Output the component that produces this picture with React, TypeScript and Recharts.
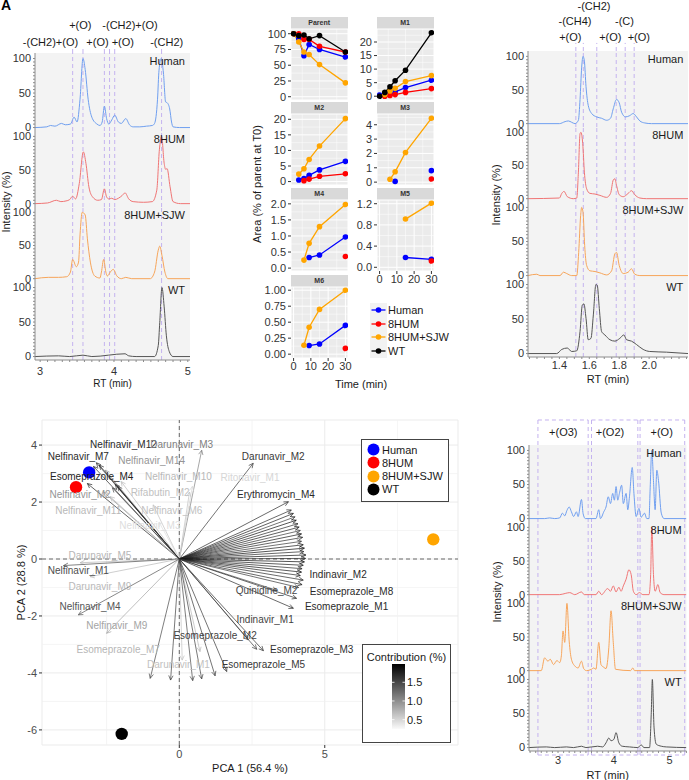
import React from 'react';
import { LineChart, Line, XAxis, YAxis, CartesianGrid, ReferenceLine, ScatterChart, Scatter } from 'recharts';

const FONT = '"Liberation Sans", Arial, Helvetica, sans-serif';
const TXT = '#1a1a1a';
const AXIS_GREY = '#8c8c8c';
const DASH = '#c4b3ef';
const PLOT_BG = '#f3f3f3';

// ---------------- Panel A : chromatograms (RT min, intensity %) ----------------
const A_HUMAN = [[2.93,0],[3.09,1],[3.14,3],[3.2,2],[3.29,6],[3.34,4],[3.41,5],[3.46,15],[3.5,8],[3.54,41],[3.58,100],[3.61,84],[3.65,41],[3.7,15],[3.77,5],[3.81,3],[3.84,8],[3.87,31],[3.9,13],[3.93,5],[3.97,11],[4.01,18],[4.06,8],[4.1,6],[4.16,13],[4.21,4],[4.26,1],[4.35,1],[4.44,2],[4.52,3],[4.55,6],[4.59,41],[4.61,83],[4.64,100],[4.67,79],[4.7,37],[4.72,36],[4.755,27],[4.78,8],[4.8,1],[4.89,0],[5.03,0]];
const A_8HUM = [[2.93,0],[3.1,1],[3.22,5],[3.28,3],[3.35,4],[3.4,6],[3.44,11],[3.48,7],[3.53,30],[3.585,77],[3.62,60],[3.66,25],[3.71,10],[3.78,5],[3.83,6],[3.87,22],[3.9,10],[3.93,7],[3.97,8],[4.01,6],[4.06,8],[4.11,12],[4.15,16],[4.2,7],[4.26,3],[4.4,2],[4.52,3],[4.58,20],[4.615,80],[4.645,100],[4.68,60],[4.7,51],[4.72,52],[4.76,25],[4.8,3],[4.9,0],[5.03,0]];
const A_SJW = [[2.93,0],[3.11,2],[3.25,2],[3.36,3],[3.41,10],[3.44,29],[3.49,18],[3.52,25],[3.54,66],[3.57,100],[3.61,96],[3.64,60],[3.68,25],[3.74,4],[3.81,1],[3.83,10],[3.86,29],[3.89,10],[3.91,4],[3.95,10],[3.99,14],[4.04,4],[4.1,0],[4.16,2],[4.24,0],[4.49,0],[4.55,10],[4.6,43],[4.62,49],[4.65,35],[4.69,10],[4.73,0],[5.03,0]];
const A_WT = [[2.93,0],[3.25,1],[3.4,0],[3.58,2],[3.7,0],[4.15,4],[4.2,1],[4.3,0],[4.55,0],[4.6,16],[4.62,49],[4.65,100],[4.68,72],[4.71,30],[4.75,7],[4.8,0],[5.03,0]];
const A_VLINES = [3.44, 3.58, 3.87, 3.94, 4.01, 4.645];
const A_XTICKS = [3,3.1,3.2,3.3,3.4,3.5,3.6,3.7,3.8,3.9,4,4.1,4.2,4.3,4.4,4.5,4.6,4.7,4.8,4.9,5];
const A_XMAJOR = [3,4,5];

// ---------------- Panel C ----------------
const C_HUMAN = [[1.19,0],[1.4,0],[1.438,3],[1.46,4],[1.482,2],[1.504,0],[1.527,5],[1.538,36],[1.549,84],[1.558,100],[1.567,93],[1.578,55],[1.593,27],[1.616,15],[1.649,10],[1.682,8],[1.716,5],[1.742,8],[1.76,22],[1.782,36],[1.8,31],[1.816,17],[1.842,10],[1.871,12],[1.893,15],[1.916,10],[1.938,4],[1.971,1],[2.016,0],[2.26,0]];
const C_8HUM = [[1.19,0],[1.4,1],[1.416,8],[1.431,11],[1.453,3],[1.493,0],[1.516,1],[1.527,40],[1.538,98],[1.544,100],[1.556,83],[1.567,40],[1.582,15],[1.604,8],[1.638,7],[1.671,5],[1.716,2],[1.742,8],[1.76,28],[1.771,30],[1.782,20],[1.8,6],[1.827,3],[1.86,8],[1.882,12],[1.904,6],[1.938,1],[1.982,0],[2.26,0]];
const C_SJW = [[1.19,0],[1.249,2],[1.27,0],[1.404,0],[1.427,5],[1.449,3],[1.482,0],[1.516,0],[1.529,34],[1.542,88],[1.549,100],[1.558,93],[1.569,44],[1.582,15],[1.604,7],[1.638,6],[1.671,4],[1.716,1],[1.749,7],[1.771,32],[1.782,34],[1.8,15],[1.827,3],[1.86,5],[1.882,10],[1.904,2],[1.938,0],[2.26,0]];
const C_WT = [[1.19,0],[1.382,0],[1.416,6],[1.453,8],[1.482,3],[1.516,4],[1.538,32],[1.553,70],[1.564,72],[1.578,51],[1.593,20],[1.611,22],[1.627,56],[1.644,100],[1.653,99],[1.667,65],[1.682,32],[1.704,27],[1.738,20],[1.771,18],[1.804,22],[1.831,27],[1.849,20],[1.882,18],[1.916,13],[1.96,6],[2.004,3],[2.116,2],[2.26,0]];
const C_VLINES = [1.51, 1.56, 1.65, 1.78, 1.84, 1.9];
const C_XTICKS = [1.2,1.25,1.3,1.35,1.4,1.45,1.5,1.55,1.6,1.65,1.7,1.75,1.8,1.85,1.9,1.95,2,2.05,2.1,2.15,2.2,2.25];
const C_XMAJOR = [1.4,1.6,1.8,2];

// ---------------- Panel D ----------------
const D_HUMAN = [[2.48,0],[2.76,0],[2.85,1],[2.94,0],[3.03,1],[3.08,8],[3.12,4],[3.16,12],[3.2,17],[3.24,10],[3.28,3],[3.33,10],[3.36,3],[3.42,28],[3.45,7],[3.49,0],[3.68,0],[3.73,13],[3.76,0],[3.82,10],[3.86,17],[3.9,32],[3.94,22],[3.98,37],[4.01,27],[4.04,47],[4.07,27],[4.1,37],[4.14,49],[4.17,22],[4.22,37],[4.25,13],[4.28,32],[4.33,75],[4.36,37],[4.4,3],[4.45,15],[4.49,2],[4.55,8],[4.59,0],[4.63,0],[4.65,42],[4.68,100],[4.71,56],[4.74,13],[4.77,71],[4.8,56],[4.85,8],[4.9,0],[5.3,0]];
const D_8HUM = [[2.48,0],[3.03,0],[3.14,2],[3.21,3],[3.3,0],[3.42,4],[3.47,0],[3.68,0],[3.73,5],[3.78,0],[3.89,9],[3.94,5],[3.99,13],[4.04,4],[4.09,11],[4.13,5],[4.17,13],[4.22,23],[4.27,37],[4.31,30],[4.35,5],[4.4,0],[4.46,3],[4.52,0],[4.63,0],[4.66,30],[4.68,100],[4.71,30],[4.74,5],[4.79,15],[4.83,3],[4.9,0],[5.3,0]];
const D_SJW = [[2.48,0],[2.7,0],[2.76,19],[2.82,14],[2.86,17],[2.92,9],[2.98,15],[3.03,12],[3.06,22],[3.09,59],[3.12,42],[3.16,100],[3.2,44],[3.24,17],[3.3,7],[3.36,4],[3.42,14],[3.46,3],[3.51,0],[3.6,2],[3.64,4],[3.68,2],[3.73,42],[3.77,9],[3.82,5],[3.86,3],[3.91,34],[3.95,89],[3.99,42],[4.03,2],[4.3,0],[4.34,4],[4.37,0],[5.3,0]];
const D_WT = [[2.48,0],[2.79,1],[2.94,0],[3.15,1],[3.28,0],[3.42,2],[3.5,0],[3.71,2],[3.8,1],[3.86,7],[3.91,14],[3.95,10],[4,12],[4.04,22],[4.09,7],[4.15,2],[4.28,1],[4.43,0],[4.49,4],[4.54,0],[4.64,0],[4.67,49],[4.69,100],[4.72,30],[4.76,5],[4.85,2],[4.94,1],[5.3,0]];
const D_BOXES = [[2.64,3.54],[3.6,4.43],[4.47,5.27]];
const D_XTICKS = [2.5,2.6,2.7,2.8,2.9,3,3.1,3.2,3.3,3.4,3.5,3.6,3.7,3.8,3.9,4,4.1,4.2,4.3,4.4,4.5,4.6,4.7,4.8,4.9,5,5.1,5.2,5.3];
const D_XMAJOR = [3,4,5];

const Y_DOMAIN = [-5, 108];
const Y_TICKS = [0,5,10,15,20,25,30,35,40,45,50,55,60,65,70,75,80,85,90,95,100];
const Y_MAJOR = [0,50,100];

const SAMPLE_NAMES = ['Human', '8HUM', '8HUM+SJW', 'WT'];
const TRACE_COLORS = ['#6f9ff0', '#f07575', '#f7a55a', '#555555'];

// ---------------- Panel B : kinetics (time min, area % of parent at T0) ----------------
const PARENT_HUMAN = [[0,100],[3,92],[6,65],[9,83],[15,75],[30,63]];
const PARENT_8HUM = [[0,100],[3,100],[6,91],[9,91],[15,80],[30,71]];
const PARENT_SJW = [[0,100],[3,87],[6,71],[9,67],[15,51],[30,22]];
const PARENT_WT = [[0,100],[3,97],[6,98],[9,92],[15,97],[30,71]];
const M1_HUMAN = [[0,0.4],[3,0.3],[6,0.8],[9,1.6],[15,3.2],[30,5.9]];
const M1_8HUM = [[3,0],[6,0.3],[9,0.6],[15,1.4],[30,2.8]];
const M1_SJW = [[3,0.6],[6,1.9],[9,2.9],[15,5.4],[30,7.6]];
const M1_WT = [[0,0],[3,1.4],[6,3.5],[9,5.7],[15,9.6],[30,23.4]];
const M2_HUMAN = [[3,0.5],[6,1.0],[9,2.0],[15,3.75],[30,6.5]];
const M2_8HUM = [[6,0.3],[9,0.8],[15,1.7],[30,2.5]];
const M2_SJW = [[3,2.4],[6,4.1],[9,7.1],[15,11.4],[30,20.2]];
const M3_HUMAN = [[9,0.05],[15,null],[30,0.8]];
const M3_8HUM = [[30,0.22]];
const M3_SJW = [[6,0.2],[9,0.72],[15,2.07],[30,4.45]];
const M4_HUMAN = [[9,0.33],[15,0.41],[30,0.97]];
const M4_8HUM = [[30,0.36]];
const M4_SJW = [[6,0.25],[9,0.77],[15,1.29],[30,1.98]];
const M5_HUMAN = [[15,0.185],[30,0.15]];
const M5_8HUM = [[30,0.12]];
const M5_SJW = [[15,0.91],[30,1.21]];
const M6_HUMAN = [[9,0.135],[15,0.16],[30,0.45]];
const M6_8HUM = [[30,0.09]];
const M6_SJW = [[6,0.14],[9,0.42],[15,0.70],[30,1.0]];
const GROUP_COLORS = ['#0000ff', '#ff0000', '#ffa500', '#000000'];
const TIME_TICKS = [0, 10, 20, 30];
const TIME_MINOR = [5, 15, 25];

// ---------------- Panel E : PCA biplot ----------------
const PCA_PC1 = [-3.1, -3.55, 8.73, -1.98];
const PCA_PC2 = [3.04, 2.52, 0.69, -6.14];
const VAR_NAMES = ['Nelfinavir_M12','Darunavir_M3','Nelfinavir_M7','Nelfinavir_M14','Esomeprazole_M4','Nelfinavir_M10','Ritonavir_M1','Darunavir_M2','Erythromycin_M4','Rifabutin_M2','Nelfinavir_M2','Nelfinavir_M11','Nelfinavir_M6','Nelfinavir_M3','Darunavir_M5','Nelfinavir_M1','Darunavir_M9','Nelfinavir_M4','Nelfinavir_M9','Esomeprazole_M7','Darunavir_M1','Esomeprazole_M2','Esomeprazole_M3','Indinavir_M1','Esomeprazole_M5','Esomeprazole_M1','Quinidine_M2','Esomeprazole_M8','Indinavir_M2'];
const VAR_PC1 = [-2.85,0.77,-2.95,-2.55,-3.16,-2.0,0.45,2.54,3.75,0.35,-2.6,-2.38,-0.9,-0.7,-3.41,-3.98,-3.07,-3.47,-2.5,0.71,0.1,2.66,2.89,2.37,1.63,3.92,3.35,4.03,4.26];
const VAR_PC2 = [3.38,3.82,3.25,3.12,2.65,2.72,2.55,3.36,2.01,2.35,2.35,2.19,1.9,1.3,-0.13,-0.23,-0.62,-1.96,-2.61,-3.25,-3.55,-3.17,-3.22,-2.84,-3.95,-1.73,-1.1,-1.38,-0.74];
const VAR_CONTRIB = [1.7,1.1,1.7,0.95,1.75,0.7,0.5,1.6,1.7,0.65,0.95,0.7,0.65,0.45,0.72,1.45,0.7,1.4,0.85,0.72,0.65,1.55,1.65,1.55,1.6,1.7,1.5,1.7,1.7];
const VAR_LAB_PC1 = [-1.92,0.08,-3.47,-0.95,-3.01,-0.03,2.43,3.23,3.32,-0.66,-3.41,-3.13,-0.26,-1.01,-2.73,-3.47,-2.73,-3.07,-2.15,-2.1,-0.03,1.23,4.55,2.95,2.89,5.75,3.0,5.92,5.46];
const VAR_LAB_PC2 = [4.02,4.02,3.59,3.47,2.89,2.89,2.85,3.61,2.27,2.34,2.28,1.72,1.72,1.16,0.14,-0.42,-0.97,-1.67,-2.35,-3.19,-3.72,-2.67,-3.17,-2.14,-3.72,-1.67,-1.09,-1.15,-0.56];
const OTHER_PC1 = [3.85,3.92,3.98,4.02,4.08,4.12,4.16,4.2,4.24,4.2,4.26,4.3,4.28,4.35,4.34,4.3,4.26,4.22,4.2,4.16,4.22,4.1,-1.0,-0.3,0.46,0.77,1.23,-2.2,-2.12,-2.3,-2.75];
const OTHER_PC2 = [1.72,1.6,1.48,1.36,1.24,1.12,1.0,0.88,0.76,0.62,0.5,0.38,0.26,0.14,0.02,-0.1,-0.22,-0.34,-0.46,-0.58,-0.9,-1.0,-4.19,-4.25,-4.27,-4.21,-4.1,2.62,2.55,2.5,3.3];
const OTHER_CONTRIB = [1.7,1.8,1.6,1.9,1.7,1.8,1.6,1.85,1.7,1.6,1.8,1.9,1.7,1.85,1.75,1.9,1.8,1.7,1.85,1.75,1.7,1.6,1.5,1.55,1.5,1.55,1.6,1.7,1.6,1.5,1.7];
const CONTRIB_MIN = 0.25;
const CONTRIB_MAX = 1.99;
const CONTRIB_LABELS = [1.5, 1.0, 0.5];

const contribColor = (v: number) => {
  const t = Math.max(0, Math.min(1, (v - CONTRIB_MIN) / (CONTRIB_MAX - CONTRIB_MIN)));
  const g = Math.round(250 * (1 - t));
  return `rgb(${g},${g},${g})`;
};

const toXY = (arr: number[][]) => arr.map(([x, y]) => ({ x, y }));
const toTV = (arr: any[][]) => arr.map(([t, v]) => ({ t, v }));

function T({ x, y, children, size = 11, color = TXT, anchor = 'middle', rotate = 0, weight = 'normal' }: any) {
  const tx = anchor === 'middle' ? '-50%' : anchor === 'end' ? '-100%' : '0';
  return (
    <div style={{ position: 'absolute', left: x, top: y, transform: `translate(${tx},-50%)${rotate ? ` rotate(${rotate}deg)` : ''}`, fontSize: size, color, whiteSpace: 'nowrap', lineHeight: 1, fontWeight: weight }}>
      {children}
    </div>
  );
}

const YW = 35;

function Chrom(c: any) {
  const mt = c.mt || 0;
  const xh = c.showX ? 30 : 0;
  const rows = toXY(c.data);
  const fmtX = (v: number) => (c.xMajor.includes(v) ? (c.xFixed ? v.toFixed(1) : String(v)) : '');
  return (
    <div style={{ position: 'absolute', left: c.left - YW, top: c.top - mt }}>
      <LineChart width={YW + c.w} height={mt + c.h + xh} margin={{ top: mt, right: 0, bottom: 0, left: 0 }} data={rows}>
        <CartesianGrid fill={PLOT_BG} horizontal={false} vertical={false} />
        <XAxis type="number" dataKey="x" domain={c.domain} ticks={c.xTicks} interval={0} allowDataOverflow height={xh}
          axisLine={{ stroke: AXIS_GREY }} tickLine={c.showX ? { stroke: AXIS_GREY } : false} tickSize={2} tickMargin={c.tickMargin || 2}
          tick={c.showX ? { fontSize: 11, fill: '#333' } : false} tickFormatter={fmtX}
          label={c.showX ? { value: 'RT (min)', position: 'insideBottom', offset: c.labelOffset || 2, fontSize: c.labelSize || 11, fill: TXT } : undefined} />
        <YAxis type="number" domain={Y_DOMAIN} ticks={Y_TICKS} interval={0} allowDataOverflow width={YW}
          axisLine={{ stroke: AXIS_GREY }} tickLine={{ stroke: AXIS_GREY }} tickSize={2} tickMargin={2}
          tick={{ fontSize: 11, fill: '#333' }} tickFormatter={(v: number) => (Y_MAJOR.includes(v) ? String(v) : '')} />
        {c.vlines.map((v: number) => (
          <ReferenceLine key={'v' + v} x={v} stroke={DASH} strokeDasharray="4 3" strokeWidth={1} />
        ))}
        {c.extTop != null && c.vlines.map((v: number) => (
          <ReferenceLine key={'t' + v} segment={[{ x: v, y: Y_DOMAIN[1] }, { x: v, y: c.extTop }]} ifOverflow="visible" stroke={DASH} strokeDasharray="4 3" />
        ))}
        {c.extBottom != null && c.vlines.map((v: number) => (
          <ReferenceLine key={'b' + v} segment={[{ x: v, y: Y_DOMAIN[0] }, { x: v, y: c.extBottom }]} ifOverflow="visible" stroke={DASH} strokeDasharray="4 3" />
        ))}
        {c.boxes && c.extTop != null && c.boxes.map((b: number[]) => (
          <ReferenceLine key={'bt' + b[0]} segment={[{ x: b[0], y: c.extTop }, { x: b[1], y: c.extTop }]} ifOverflow="visible" stroke={DASH} strokeDasharray="4 3" />
        ))}
        {c.boxes && c.extBottom != null && c.boxes.map((b: number[]) => (
          <ReferenceLine key={'bb' + b[0]} segment={[{ x: b[0], y: c.extBottom }, { x: b[1], y: c.extBottom }]} ifOverflow="visible" stroke={DASH} strokeDasharray="4 3" />
        ))}
        <Line type="monotone" dataKey="y" stroke={c.color} strokeWidth={1} dot={false} isAnimationActive={false} />
      </LineChart>
      <div style={{ position: 'absolute', left: YW + c.w - 105, width: 100, top: mt + 2, textAlign: 'right', fontSize: 11, color: TXT, lineHeight: '13px' }}>{c.name}</div>
    </div>
  );
}

const FYW = 32;
const STRIP = 12;
const PW = 57;
const PH = 71;

function Facet({ px, py, title, domain, ticks, labels, minor, series, showX }: any) {
  const xh = showX ? 17 : 0;
  return (
    <div style={{ position: 'absolute', left: px - FYW, top: py - STRIP }}>
      <div style={{ position: 'absolute', left: FYW, top: 0, width: PW, height: STRIP, background: '#d9d9d9', fontSize: 7, fontWeight: 'bold', textAlign: 'center', lineHeight: STRIP + 'px', color: '#333' }}>{title}</div>
      <LineChart width={FYW + PW} height={STRIP + PH + xh} margin={{ top: STRIP, right: 0, bottom: 0, left: 0 }}>
        <CartesianGrid fill="#ebebeb" stroke="#ffffff" strokeWidth={1} />
        {TIME_MINOR.map((v) => <ReferenceLine key={'mx' + v} x={v} stroke="#ffffff" strokeWidth={0.5} />)}
        {minor.map((v: number) => <ReferenceLine key={'my' + v} y={v} stroke="#ffffff" strokeWidth={0.5} />)}
        <XAxis type="number" dataKey="t" domain={[-1.5, 31.5]} ticks={TIME_TICKS} interval={0} allowDataOverflow height={xh}
          axisLine={false} tickLine={showX ? { stroke: '#333' } : false} tickSize={3} tickMargin={1}
          tick={showX ? { fontSize: 11, fill: '#333' } : false} />
        <YAxis type="number" domain={domain} ticks={ticks} interval={0} allowDataOverflow width={FYW}
          axisLine={false} tickLine={{ stroke: '#333' }} tickSize={3} tickMargin={2}
          tick={{ fontSize: 11, fill: '#333' }} tickFormatter={(v: number) => labels[ticks.indexOf(v)]} />
        {series.map((s: any, i: number) => (
          <Line key={i} data={toTV(s.data)} dataKey="v" type="linear" stroke={s.color} strokeWidth={1.3}
            dot={{ r: 2.8, fill: s.color, stroke: s.color, strokeWidth: 0 }} isAnimationActive={false} />
        ))}
      </LineChart>
    </div>
  );
}

const arrowShape = (color: string) => (p: any) => {
  const { x1, y1, x2, y2 } = p;
  const a = Math.atan2(y2 - y1, x2 - x1);
  const L = 5;
  const s = 0.45;
  const ax = x2 - L * Math.cos(a - s);
  const ay = y2 - L * Math.sin(a - s);
  const bx = x2 - L * Math.cos(a + s);
  const by = y2 - L * Math.sin(a + s);
  return (
    <g>
      <line x1={x1} y1={y1} x2={x2} y2={y2} stroke={color} strokeWidth={0.7} />
      <path d={`M${ax},${ay}L${x2},${y2}L${bx},${by}`} fill="none" stroke={color} strokeWidth={0.7} />
    </g>
  );
};

function PcaPanel() {
  const labels = VAR_NAMES.map((n, i) => ({ x: VAR_LAB_PC1[i], y: VAR_LAB_PC2[i], name: n, c: contribColor(VAR_CONTRIB[i]) }));
  const arrows = [
    ...VAR_NAMES.map((n, i) => ({ x: VAR_PC1[i], y: VAR_PC2[i], c: VAR_CONTRIB[i] })),
    ...OTHER_PC1.map((x, i) => ({ x, y: OTHER_PC2[i], c: OTHER_CONTRIB[i] })),
  ];
  const minorX = [-2.5, 2.5, 7.5];
  const minorY = [-5, -3, -1, 1, 3];
  return (
    <div style={{ position: 'absolute', left: 0, top: 395 }}>
      <ScatterChart width={460} height={385} margin={{ top: 25, right: 2, bottom: 0, left: 0 }}>
        <CartesianGrid stroke="#ebebeb" strokeWidth={1} />
        {minorX.map((v) => <ReferenceLine key={'gx' + v} x={v} stroke="#f0f0f0" strokeWidth={0.7} />)}
        {minorY.map((v) => <ReferenceLine key={'gy' + v} y={v} stroke="#f0f0f0" strokeWidth={0.7} />)}
        <XAxis type="number" dataKey="x" domain={[-4.72, 9.58]} ticks={[0, 5]} interval={0} allowDataOverflow height={35}
          axisLine={false} tickLine={{ stroke: '#333' }} tickSize={3} tickMargin={2}
          tick={{ fontSize: 11, fill: '#4d4d4d' }}
          label={{ value: 'PCA 1 (56.4 %)', position: 'insideBottom', offset: 8, fontSize: 11, fill: TXT }} />
        <YAxis type="number" dataKey="y" domain={[-6.53, 4.88]} ticks={[-6, -4, -2, 0, 2, 4]} interval={0} allowDataOverflow width={42}
          axisLine={false} tickLine={{ stroke: '#333' }} tickSize={3} tickMargin={2}
          tick={{ fontSize: 11, fill: '#4d4d4d' }}
          label={{ value: 'PCA 2 (28.8 %)', angle: -90, position: 'center', dx: 0, fontSize: 11, fill: TXT }} />
        <ReferenceLine x={0} stroke="#444" strokeDasharray="4 3" strokeWidth={0.8} />
        <ReferenceLine y={0} stroke="#444" strokeDasharray="4 3" strokeWidth={0.8} />
        {SAMPLE_NAMES.map((g, i) => (
          <Scatter key={g} name={g} data={[{ x: PCA_PC1[i], y: PCA_PC2[i] }]} fill={GROUP_COLORS[i]} isAnimationActive={false}
            shape={(p: any) => <circle cx={p.cx} cy={p.cy} r={6.2} fill={GROUP_COLORS[i]} />} />
        ))}
        {arrows.map((a, i) => (
          <ReferenceLine key={'ar' + i} segment={[{ x: 0, y: 0 }, { x: a.x, y: a.y }]} ifOverflow="visible"
            shape={arrowShape(contribColor(a.c))} />
        ))}
        <Scatter data={labels} isAnimationActive={false}
          shape={(p: any) => (
            <text x={p.cx} y={p.cy} textAnchor="middle" dominantBaseline="central" fontSize={10} fill={p.payload.c} fontFamily={FONT}>{p.payload.name}</text>
          )} />
      </ScatterChart>
      {/* group legend */}
      <div style={{ position: 'absolute', left: 361, top: 44, width: 86, height: 61, border: '1px solid #444', background: '#fff' }}>
        {SAMPLE_NAMES.map((g, i) => (
          <div key={g} style={{ position: 'absolute', left: 5, top: 3 + i * 13.3, height: 13, display: 'flex', alignItems: 'center' }}>
            <svg width={14} height={13}><circle cx={6.5} cy={6.5} r={6} fill={GROUP_COLORS[i]} /></svg>
            <span style={{ fontSize: 11, color: TXT, marginLeft: 1 }}>{g}</span>
          </div>
        ))}
      </div>
      {/* contribution legend */}
      <div style={{ position: 'absolute', left: 362, top: 249, width: 87, height: 97, border: '1px solid #444', background: '#fff' }}>
        <div style={{ position: 'absolute', left: 0, width: 87, top: 6, textAlign: 'center', fontSize: 11, color: TXT }}>Contribution (%)</div>
        <svg style={{ position: 'absolute', left: 29, top: 19 }} width={14} height={66}>
          <defs>
            <linearGradient id="contribGrad" x1="0" y1="1" x2="0" y2="0">
              <stop offset="0%" stopColor={contribColor(CONTRIB_MIN)} />
              <stop offset="50%" stopColor={contribColor((CONTRIB_MIN + CONTRIB_MAX) / 2)} />
              <stop offset="100%" stopColor={contribColor(CONTRIB_MAX)} />
            </linearGradient>
          </defs>
          <rect x={0} y={0} width={13} height={65} fill="url(#contribGrad)" />
          {CONTRIB_LABELS.map((v) => {
            const yy = 65 * (1 - (v - CONTRIB_MIN) / (CONTRIB_MAX - CONTRIB_MIN));
            return (
              <g key={v}>
                <line x1={0} x2={2.5} y1={yy} y2={yy} stroke="#fff" strokeWidth={0.8} />
                <line x1={10.5} x2={13} y1={yy} y2={yy} stroke="#fff" strokeWidth={0.8} />
              </g>
            );
          })}
        </svg>
        {CONTRIB_LABELS.map((v) => (
          <div key={v} style={{ position: 'absolute', left: 44, top: 19 + 65 * (1 - (v - CONTRIB_MIN) / (CONTRIB_MAX - CONTRIB_MIN)) - 6, fontSize: 11, color: TXT, lineHeight: '12px' }}>{v.toFixed(1)}</div>
        ))}
      </div>
    </div>
  );
}

export default function App() {
  const aData = [A_HUMAN, A_8HUM, A_SJW, A_WT];
  const cData = [C_HUMAN, C_8HUM, C_SJW, C_WT];
  const dData = [D_HUMAN, D_8HUM, D_SJW, D_WT];
  const aTops = [53, 131, 207, 282];
  const aH = [78, 76, 75, 78];
  const cTops = [51, 127, 202, 279];
  const cH = [76, 75, 77, 78];
  const dTops = [445, 522, 598, 674];
  const dH = [77, 76, 76, 77];
  const dV = D_BOXES.flat();

  const facets = [
    { px: 290.7, py: 28.5, title: 'Parent', domain: [-5.2, 107.5], ticks: [0, 25, 50, 75, 100], labels: ['0', '25', '50', '75', '100'], minor: [12.5, 37.5, 62.5, 87.5],
      series: [PARENT_HUMAN, PARENT_8HUM, PARENT_SJW, PARENT_WT] },
    { px: 376.5, py: 28.5, title: 'M1', domain: [-1.4, 24.8], ticks: [0, 5, 10, 15, 20], labels: ['0', '5', '10', '15', '20'], minor: [2.5, 7.5, 12.5, 17.5, 22.5],
      series: [M1_HUMAN, M1_8HUM, M1_SJW, M1_WT] },
    { px: 290.7, py: 114, title: 'M2', domain: [-1.1, 21.7], ticks: [0, 5, 10, 15, 20], labels: ['0', '5', '10', '15', '20'], minor: [2.5, 7.5, 12.5, 17.5],
      series: [M2_HUMAN, M2_8HUM, M2_SJW, []] },
    { px: 376.5, py: 114, title: 'M3', domain: [-0.2, 4.75], ticks: [0, 1, 2, 3, 4], labels: ['0', '1', '2', '3', '4'], minor: [0.5, 1.5, 2.5, 3.5, 4.5],
      series: [M3_HUMAN, M3_8HUM, M3_SJW, []] },
    { px: 290.7, py: 200, title: 'M4', domain: [-0.09, 2.12], ticks: [0, 0.5, 1, 1.5, 2], labels: ['0.0', '0.5', '1.0', '1.5', '2.0'], minor: [0.25, 0.75, 1.25, 1.75],
      series: [M4_HUMAN, M4_8HUM, M4_SJW, []] },
    { px: 376.5, py: 200, title: 'M5', domain: [-0.07, 1.27], ticks: [0, 0.4, 0.8, 1.2], labels: ['0.0', '0.4', '0.8', '1.2'], minor: [0.2, 0.6, 1.0], showX: true,
      series: [M5_HUMAN, M5_8HUM, M5_SJW, []] },
    { px: 290.7, py: 287, title: 'M6', domain: [-0.06, 1.05], ticks: [0, 0.25, 0.5, 0.75, 1], labels: ['0.00', '0.25', '0.50', '0.75', '1.00'], minor: [0.125, 0.375, 0.625, 0.875], showX: true,
      series: [M6_HUMAN, M6_8HUM, M6_SJW, []] },
  ];

  return (
    <div style={{ position: 'absolute', left: 0, top: 0, width: 689, height: 780, overflow: 'hidden', background: '#fff', fontFamily: FONT }}>
      <style>{'.recharts-surface{overflow:visible}.recharts-wrapper{overflow:visible}'}</style>
      <div style={{ position: 'absolute', left: 1, top: -3, fontSize: 14, fontWeight: 'bold', color: '#000' }}>A</div>

      {/* ---- Panel A ---- */}
      {aData.map((d, i) => (
        <Chrom key={'a' + i} left={35} top={aTops[i]} w={155} h={aH[i]} domain={[2.93, 5.03]} xTicks={A_XTICKS} xMajor={A_XMAJOR}
          data={d} color={TRACE_COLORS[i]} name={SAMPLE_NAMES[i]} vlines={A_VLINES} mt={i === 0 ? 8 : 0}
          extTop={i === 0 ? 116.7 : null} showX={i === 3} tickMargin={5} labelSize={10} labelOffset={3} />
      ))}
      <T x={80.3} y={25}>+(O)</T>
      <T x={130} y={25}>-(CH2)+(O)</T>
      <T x={50.5} y={41.7}>-(CH2)+(O)</T>
      <T x={97.5} y={41.7}>+(O)</T>
      <T x={122.8} y={41.7}>+(O)</T>
      <T x={166.7} y={41.7}>-(CH2)</T>
      <T x={6} y={202} rotate={-90}>Intensity (%)</T>

      {/* ---- Panel B ---- */}
      {facets.map((f) => (
        <Facet key={f.title} px={f.px} py={f.py} title={f.title} domain={f.domain} ticks={f.ticks} labels={f.labels} minor={f.minor}
          showX={f.showX} series={f.series.map((s, i) => ({ data: s, color: GROUP_COLORS[i] })).filter((s) => s.data.length > 0)} />
      ))}
      <T x={257} y={184} rotate={-90}>Area (% of parent at T0)</T>
      <T x={361} y={384}>Time (min)</T>
      <div style={{ position: 'absolute', left: 370, top: 303 }}>
        {SAMPLE_NAMES.map((g, i) => (
          <div key={g} style={{ position: 'absolute', left: 0, top: i * 13.7, height: 14, display: 'flex', alignItems: 'center' }}>
            <svg width={17} height={14}>
              <rect x={0} y={0} width={17} height={14} fill="#f2f2f2" />
              <line x1={1.5} x2={15.5} y1={7} y2={7} stroke={GROUP_COLORS[i]} strokeWidth={1.3} />
              <circle cx={8.5} cy={7} r={2.8} fill={GROUP_COLORS[i]} />
            </svg>
            <span style={{ fontSize: 11, color: TXT, marginLeft: 1, whiteSpace: 'nowrap' }}>{g}</span>
          </div>
        ))}
      </div>

      {/* ---- Panel C ---- */}
      {cData.map((d, i) => (
        <Chrom key={'c' + i} left={528.3} top={cTops[i]} w={160} h={cH[i]} domain={[1.19, 2.26]} xTicks={C_XTICKS} xMajor={C_XMAJOR} xFixed
          data={d} color={TRACE_COLORS[i]} name={SAMPLE_NAMES[i]} vlines={C_VLINES} mt={i === 0 ? 9 : 0}
          extTop={i === 0 ? 120 : null} showX={i === 3} tickMargin={2} labelOffset={4} />
      ))}
      <T x={594} y={6}>-(CH2)</T>
      <T x={575} y={21}>-(CH4)</T>
      <T x={624.5} y={21}>-(C)</T>
      <T x={570.3} y={37.3}>+(O)</T>
      <T x={610.3} y={37.3}>+(O)</T>
      <T x={638.8} y={37.3}>+(O)</T>
      <T x={496} y={195} rotate={-90}>Intensity (%)</T>

      {/* ---- Panel D ---- */}
      {dData.map((d, i) => (
        <Chrom key={'d' + i} left={529.3} top={dTops[i]} w={157.4} h={dH[i]} domain={[2.48, 5.3]} xTicks={D_XTICKS} xMajor={D_XMAJOR}
          data={d} color={TRACE_COLORS[i]} name={SAMPLE_NAMES[i]} vlines={dV} boxes={D_BOXES} mt={i === 0 ? 27 : 0}
          extTop={i === 0 ? 144.7 : null} extBottom={i === 3 ? -10.9 : null} showX={i === 3} tickMargin={3} labelOffset={2} />
      ))}
      <T x={563.3} y={432.3}>+(O3)</T>
      <T x={610} y={432.3}>+(O2)</T>
      <T x={661.7} y={432.3}>+(O)</T>
      <T x={496.7} y={592} rotate={-90}>Intensity (%)</T>

      {/* ---- Panel E ---- */}
      <PcaPanel />
    </div>
  );
}
